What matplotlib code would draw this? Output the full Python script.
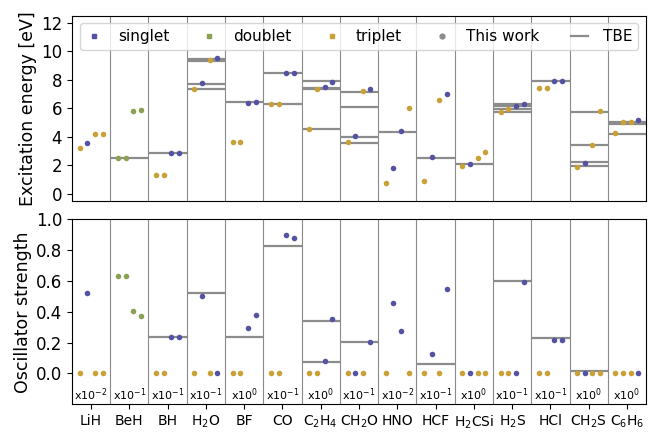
import matplotlib
matplotlib.use("Agg")
import matplotlib.pyplot as plt
from matplotlib.lines import Line2D

molecules = ["LiH", "BeH", "BH", r"H$_2$O", "BF", "CO", r"C$_2$H$_4$", r"CH$_2$O",
             "HNO", "HCF", r"H$_2$CSi", r"H$_2$S", "HCl", r"CH$_2$S", r"C$_6$H$_6$"]

# spin type of each computed state (s=singlet, d=doublet, t=triplet)
spin = [
    ["t", "s", "t", "t"],
    ["d", "d", "d", "d"],
    ["t", "t", "s", "s"],
    ["t", "s", "t", "s"],
    ["t", "t", "s", "s"],
    ["t", "t", "s", "s"],
    ["t", "t", "s", "s"],
    ["t", "s", "t", "s"],
    ["t", "s", "s", "t"],
    ["t", "s", "t", "s"],
    ["t", "s", "t", "t"],
    ["t", "t", "s", "s"],
    ["t", "t", "s", "s"],
    ["t", "s", "t", "t"],
    ["t", "t", "t", "s"],
]

# excitation energies (eV), this work
energy = [
    [3.21, 3.56, 4.15, 4.15],
    [2.51, 2.51, 5.82, 5.87],
    [1.31, 1.31, 2.86, 2.86],
    [7.37, 7.77, 9.37, 9.53],
    [3.63, 3.63, 6.36, 6.45],
    [6.29, 6.29, 8.49, 8.49],
    [4.53, 7.32, 7.49, 7.81],
    [3.59, 4.01, 7.18, 7.32],
    [0.77, 1.80, 4.37, 6.01],
    [0.87, 2.56, 6.57, 7.02],
    [1.95, 2.11, 2.51, 2.93],
    [5.75, 5.94, 6.12, 6.29],
    [7.39, 7.39, 7.88, 7.88],
    [1.90, 2.16, 3.40, 5.80],
    [4.25, 5.00, 5.03, 5.18],
]

# oscillator strengths (scaled by 10^-exponent), this work
oscillator = [
    [0.0, 0.52, 0.0, 0.0],
    [0.63, 0.63, 0.406, 0.372],
    [0.0, 0.0, 0.236, 0.236],
    [0.0, 0.504, 0.0, 0.0],
    [0.0, 0.0, 0.294, 0.377],
    [0.0, 0.0, 0.90, 0.881],
    [0.0, 0.0, 0.078, 0.355],
    [0.0, 0.0, 0.0, 0.205],
    [0.0, 0.456, 0.273, 0.0],
    [0.0, 0.125, 0.0, 0.547],
    [0.0, 0.0, 0.0, 0.0],
    [0.0, 0.0, 0.0, 0.595],
    [0.0, 0.0, 0.218, 0.218],
    [0.0, 0.0, 0.0, 0.0],
    [0.0, 0.0, 0.0, 0.0],
]

# theoretical best estimates
tbe_energy = [
    [], [2.51], [2.86], [7.35, 7.72, 9.34, 9.48], [6.41], [6.29, 8.49],
    [4.55, 7.32, 7.42, 7.93], [3.56, 3.99, 6.08, 7.16], [4.32], [2.51], [2.11],
    [5.75, 5.92, 6.15, 6.29], [7.88], [1.94, 2.20, 3.42, 5.75], [4.18, 4.88, 5.04],
]
tbe_osc = [
    [], [], [0.238], [0.519], [0.234], [0.827], [0.075, 0.338], [0.201], [],
    [0.060], [], [0.599], [0.229], [0.015], [],
]

scale_exp = [-2, -1, -1, -1, 0, -1, 0, -1, -2, -1, 0, -1, -1, 0, 0]

colors = {"s": "#5452a3", "d": "#8aa152", "t": "#c9a136"}
tbe_color = "#8c8c8c"
sep_color = "#8a8a8a"

fig = plt.figure(figsize=(6.48, 4.34), dpi=100)
ax1 = fig.add_axes([0.111, 0.5376, 0.886, 0.4265])
ax2 = fig.add_axes([0.111, 0.0684, 0.886, 0.4263])

n = len(molecules)
for ax, vals, tbes in ((ax1, energy, tbe_energy), (ax2, oscillator, tbe_osc)):
    for i in range(n):
        if i > 0:
            ax.axvline(i - 0.5, color=sep_color, lw=0.8, zorder=1)
        for v in tbes[i]:
            ax.hlines(v, i - 0.5, i + 0.5, color=tbe_color, lw=1.6, zorder=2)
        for k, (sp, v) in enumerate(zip(spin[i], vals[i])):
            x = i + (k - 1.5) * 0.2
            ax.scatter([x], [v], s=16, color=colors[sp], zorder=3, linewidths=0)
    ax.set_xlim(-0.5, n - 0.5)
    ax.tick_params(axis="y", labelsize=12)
    ax.tick_params(axis="x", labelsize=10)

ax1.set_ylim(-0.5, 12.5)
ax1.set_yticks([0, 2, 4, 6, 8, 10, 12])
ax1.set_xticks([])
ax1.set_ylabel("Excitation energy [eV]", fontsize=12.5, labelpad=3)

ax2.set_ylim(-0.2, 1.0)
ax2.set_yticks([0.0, 0.2, 0.4, 0.6, 0.8, 1.0])
ax2.set_xticks(range(n))
ax2.set_xticklabels(molecules, fontsize=10)
ax2.set_ylabel("Oscillator strength", fontsize=12.5, labelpad=3)
for i, e in enumerate(scale_exp):
    ax2.text(i, -0.14, r"x10$^{%d}$" % e, ha="center", va="center", fontsize=8)

handles = [
    Line2D([], [], ls="none", marker="s", ms=3.5, color=colors["s"], label="singlet"),
    Line2D([], [], ls="none", marker="s", ms=3.5, color=colors["d"], label="doublet"),
    Line2D([], [], ls="none", marker="s", ms=3.5, color=colors["t"], label="triplet"),
    Line2D([], [], ls="none", marker="o", ms=3.5, color="#8c8c8c", label="This work"),
    Line2D([], [], color=tbe_color, lw=1.6, label="TBE"),
]
ax1.legend(handles=handles, loc="upper center", ncol=5, mode="expand", fontsize=11,
           handlelength=1.1, handletextpad=1.0, borderpad=0.4)

fig.savefig("out.png", dpi=100)
